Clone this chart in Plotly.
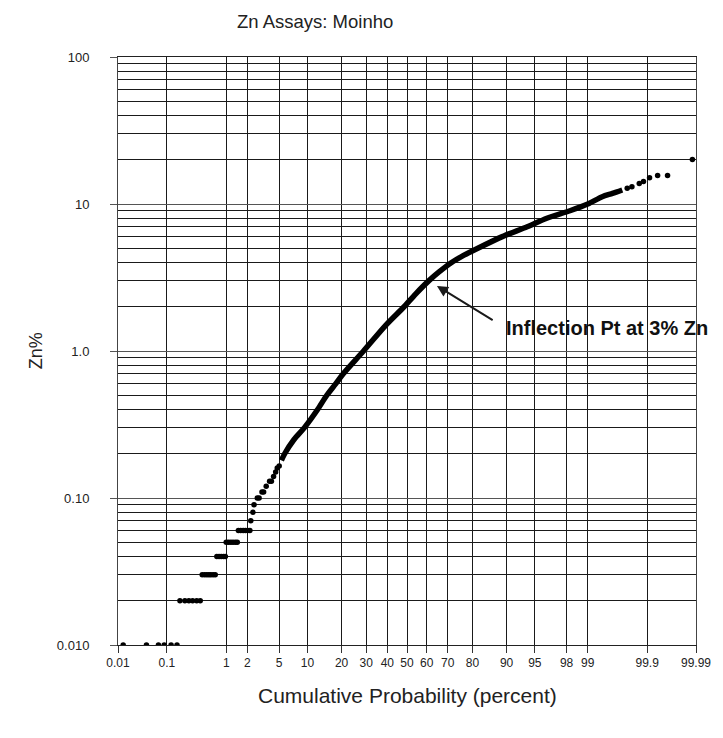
import math
import plotly.graph_objects as go
from statistics import NormalDist

# ---------------- data (cumulative probability %, Zn %) ----------------
x_tick_labels = ["0.01", "0.1", "1", "2", "5", "10", "20", "30", "40", "50",
                 "60", "70", "80", "90", "95", "98", "99", "99.9", "99.99"]
x_tick_values = [0.01, 0.1, 1, 2, 5, 10, 20, 30, 40, 50,
                 60, 70, 80, 90, 95, 98, 99, 99.9, 99.99]
y_tick_values = [0.01, 0.1, 1, 10, 100]
y_tick_labels = ["0.010", "0.10", "1.0", "10", "100"]

# low tail and stepped (detection-limited) assays
low_prob = [0.013, 0.04, 0.069, 0.089, 0.12, 0.154,
            0.174, 0.213, 0.25, 0.29, 0.34, 0.39,
            0.42, 0.46, 0.50, 0.54, 0.58, 0.63, 0.68,
            0.72, 0.78, 0.84, 0.91, 0.97,
            1.00, 1.08, 1.17, 1.26, 1.36, 1.45,
            1.50, 1.62, 1.75, 1.88, 2.02, 2.16,
            2.22, 2.37, 2.45, 2.70, 2.85, 3.10, 3.25, 3.50,
            3.85, 4.05, 4.30, 4.55, 4.75, 5.00]
low_zn = [0.01, 0.01, 0.01, 0.01, 0.01, 0.01,
          0.02, 0.02, 0.02, 0.02, 0.02, 0.02,
          0.03, 0.03, 0.03, 0.03, 0.03, 0.03, 0.03,
          0.04, 0.04, 0.04, 0.04, 0.04,
          0.05, 0.05, 0.05, 0.05, 0.05, 0.05,
          0.06, 0.06, 0.06, 0.06, 0.06, 0.06,
          0.07, 0.08, 0.09, 0.10, 0.10, 0.11, 0.11, 0.12,
          0.13, 0.13, 0.14, 0.15, 0.16, 0.165]

# dense central part of the distribution
mid_prob = [5.3, 5.77, 7.3, 9.3, 12.5, 15.1, 18.0, 20.6, 28.8,
            39.3, 48.5, 54.5, 61.0, 66.0, 71.7, 76.5, 81.9, 89.0, 93.9,
            96.4, 98.2, 99.0, 99.4, 99.59, 99.72]
mid_zn = [0.18, 0.20, 0.25, 0.30, 0.40, 0.50, 0.60, 0.70, 1.00,
          1.50, 2.00, 2.45, 3.00, 3.45, 4.00, 4.45, 5.00, 6.00, 7.00,
          8.00, 9.00, 10.0, 11.2, 11.8, 12.45]

# high tail
high_prob = [99.77, 99.81, 99.86, 99.883, 99.91, 99.937, 99.960, 99.988]
high_zn = [12.8, 13.1, 13.8, 14.2, 15.1, 15.6, 15.6, 20.1]

minor_y = [m * d for d in (0.01, 0.1, 1, 10) for m in range(2, 10)]

nd = NormalDist()


def probit(p):
    return nd.inv_cdf(p / 100.0)


FONT = "Liberation Sans, Arial, sans-serif"
INK = "#000000"

fig = go.Figure()

fig.add_trace(go.Scatter(
    x=[probit(p) for p in mid_prob], y=mid_zn, mode="lines",
    line=dict(color=INK, width=5.5, shape="spline", smoothing=0.8),
    hoverinfo="skip", showlegend=False))
fig.add_trace(go.Scatter(
    x=[probit(p) for p in low_prob + high_prob], y=low_zn + high_zn,
    mode="markers", marker=dict(color=INK, size=5.5),
    showlegend=False))

xmin, xmax = probit(0.01), probit(99.99)

fig.update_xaxes(
    range=[xmin, xmax], tickmode="array",
    tickvals=[probit(v) for v in x_tick_values], ticktext=x_tick_labels,
    showgrid=True, gridcolor="#1a1a1a", gridwidth=1,
    ticks="outside", ticklen=7, tickcolor="#333", tickwidth=1,
    showline=True, mirror=True, linecolor="#222", linewidth=1,
    zeroline=False, tickfont=dict(family=FONT, size=12, color="#222"))

fig.update_yaxes(
    type="log", range=[-2, 2], tickmode="array",
    tickvals=y_tick_values, ticktext=y_tick_labels,
    showgrid=True, gridcolor="#555", gridwidth=1,
    ticks="outside", ticklen=7, tickcolor="#555", tickwidth=1,
    ticklabelstandoff=18,
    minor=dict(tickmode="array", tickvals=minor_y, showgrid=True,
               gridcolor="#1a1a1a", gridwidth=1, ticks=""),
    showline=True, mirror=True, linecolor="#444", linewidth=1,
    zeroline=False, tickfont=dict(family=FONT, size=13, color="#222"))

fig.update_layout(
    width=723, height=738,
    margin=dict(l=118, r=18, t=57, b=93),
    paper_bgcolor="white", plot_bgcolor="white",
    title=dict(text="Zn Assays: Moinho", x=237 / 723, xanchor="left",
               y=1 - 22 / 738, yanchor="middle",
               font=dict(family=FONT, size=18.5, color="#222")),
    font=dict(family=FONT, color="#222"),
)

# axis titles
fig.add_annotation(text="Cumulative Probability (percent)", xref="paper", yref="paper",
                   x=0.5, y=(645 - 695) / 588, showarrow=False,
                   xanchor="center", yanchor="middle",
                   font=dict(family=FONT, size=21, color="#222"))
fig.add_annotation(text="Zn%", xref="paper", yref="paper",
                   x=(35 - 118) / 587, y=0.5, textangle=-90, showarrow=False,
                   xanchor="center", yanchor="middle",
                   font=dict(family=FONT, size=18, color="#222"))

# inflection annotation (log axis: y / ay given as log10 values)
tip_prob, tip_zn = 65.0, 2.77
tail_prob, tail_zn = 86.9, 1.6
fig.add_annotation(text="", x=probit(tip_prob), y=math.log10(tip_zn),
                   xref="x", yref="y",
                   ax=probit(tail_prob), ay=math.log10(tail_zn), axref="x", ayref="y",
                   showarrow=True, arrowhead=2, arrowsize=1.1, arrowwidth=2,
                   arrowcolor="#1a1a1a")
fig.add_annotation(text="<b>Inflection Pt at 3% Zn</b>", x=probit(89.4),
                   y=math.log10(1.43),
                   xref="x", yref="y", xanchor="left", yanchor="middle",
                   showarrow=False,
                   font=dict(family=FONT, size=20, color="#111"))

fig.write_html("out.html")
